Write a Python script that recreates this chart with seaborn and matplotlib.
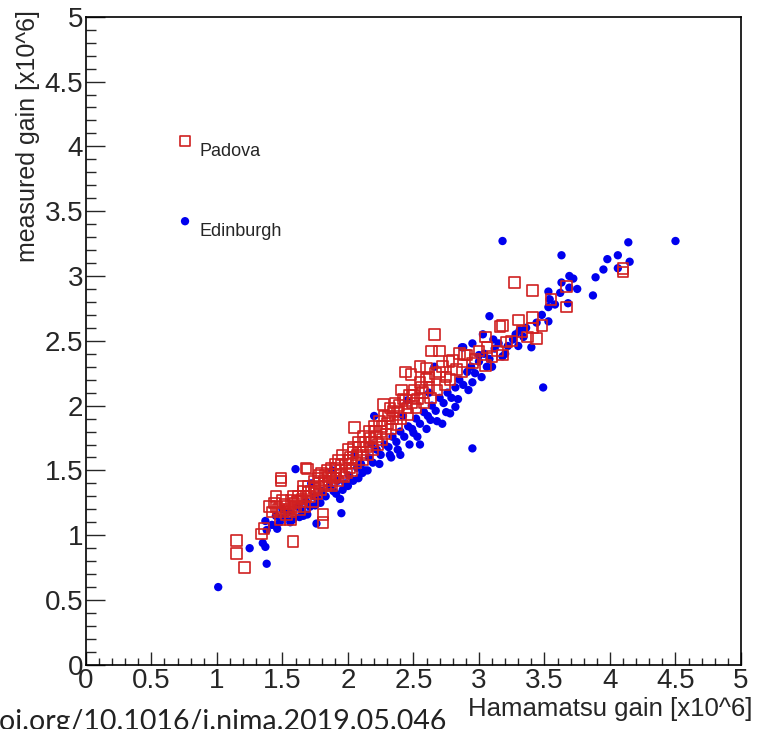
import numpy as np
import pandas as pd
import seaborn as sns
import matplotlib.pyplot as plt
from matplotlib.ticker import MultipleLocator

sns.set_style("white")
plt.rcParams["font.family"] = ["Liberation Sans", "DejaVu Sans"]

# Padova measurements (Hamamatsu gain, measured gain) in units of 10^6
padova_x = [1.15, 1.15, 1.21, 1.34, 1.40, 1.45, 1.49, 1.48, 1.56, 1.58, 1.69, 1.81, 1.81,
            1.36, 1.42, 1.44, 1.47, 1.50, 1.52, 1.55, 1.57, 1.60, 1.62, 1.64, 1.66, 1.68,
            1.70, 1.72, 1.74, 1.75, 1.77, 1.78, 1.80, 1.82, 1.84, 1.85, 1.87, 1.88, 1.90,
            1.91, 1.93, 1.94, 1.96, 1.97, 1.98, 2.00, 2.01, 2.02, 2.04, 2.05, 2.06, 2.08,
            2.10, 2.12, 2.14, 2.16, 2.18, 2.20, 2.22, 2.24, 2.25, 2.27, 2.28, 2.30, 2.32,
            2.34, 2.36, 2.38, 2.41, 2.42, 2.44, 2.45, 2.47, 2.49, 2.51, 2.53, 2.55, 2.57,
            2.60, 2.60, 2.62, 2.64, 2.66, 2.67, 2.70, 2.72, 2.75, 2.77, 2.80, 2.83, 2.85,
            2.89, 2.91, 2.95, 3.05, 3.05, 3.06, 3.14, 3.16, 3.18, 3.18, 3.21, 3.27, 3.30,
            3.37, 3.41, 3.41, 3.41, 3.44, 3.48, 3.55, 3.67, 3.67, 4.10, 4.10,
            1.53, 1.56, 1.59, 1.63, 1.65, 1.67, 1.71, 1.73, 1.76, 1.79, 1.83, 1.86, 1.89,
            1.92, 1.95, 1.99, 2.03, 2.07, 2.11, 2.15, 2.19, 2.23, 2.26, 2.29, 2.33, 2.37,
            2.40, 2.46, 2.52, 2.58, 2.63, 2.68, 2.74, 2.78, 2.87, 2.97, 3.00, 3.10, 3.25,
            3.33, 1.68, 1.49,
            1.45, 1.50, 1.54, 1.58, 1.61, 1.66, 1.70, 1.74, 1.78, 1.83, 1.87, 1.91, 1.95,
            2.00, 2.04, 2.09, 2.13, 2.17, 2.21, 2.26, 2.31, 2.35, 2.39, 2.44, 2.50, 2.56,
            2.62, 2.70, 2.55, 2.48]
padova_y = [0.96, 0.86, 0.75, 1.01, 1.22, 1.30, 1.42, 1.12, 1.12, 0.95, 1.51, 1.16, 1.10,
            1.05, 1.18, 1.25, 1.20, 1.18, 1.24, 1.20, 1.27, 1.22, 1.30, 1.26, 1.34, 1.30,
            1.38, 1.34, 1.42, 1.36, 1.44, 1.40, 1.48, 1.42, 1.50, 1.45, 1.52, 1.38, 1.55,
            1.47, 1.58, 1.50, 1.62, 1.45, 1.55, 1.66, 1.52, 1.60, 1.68, 1.83, 1.56, 1.72,
            1.64, 1.76, 1.68, 1.80, 1.72, 1.84, 1.76, 1.88, 1.80, 2.01, 1.92, 1.86, 1.98,
            1.90, 2.02, 1.95, 2.12, 2.05, 2.26, 1.98, 2.08, 2.02, 2.12, 2.05, 2.18, 2.10,
            2.29, 2.20, 2.14, 2.42, 2.55, 2.25, 2.42, 2.30, 2.22, 2.34, 2.35, 2.28, 2.40,
            2.39, 2.39, 2.33, 2.53, 2.31, 2.45, 2.42, 2.61, 2.62, 2.39, 2.49, 2.95, 2.66,
            2.53, 2.89, 2.68, 2.60, 2.52, 2.62, 2.82, 2.92, 2.76, 3.06, 3.03,
            1.16, 1.18, 1.25, 1.20, 1.28, 1.22, 1.30, 1.26, 1.32, 1.35, 1.38, 1.40, 1.44,
            1.42, 1.46, 1.48, 1.50, 1.62, 1.58, 1.62, 1.66, 1.70, 1.74, 1.78, 1.82, 1.85,
            1.90, 1.93, 1.98, 2.02, 2.06, 2.12, 2.16, 2.20, 2.26, 2.36, 2.42, 2.38, 2.50,
            2.57, 1.52, 1.44,
            1.22, 1.27, 1.22, 1.30, 1.26, 1.38, 1.33, 1.37, 1.46, 1.46, 1.47, 1.52, 1.55,
            1.58, 1.64, 1.68, 1.72, 1.75, 1.80, 1.84, 1.92, 1.96, 2.00, 2.04, 2.08, 2.14,
            2.22, 2.26, 2.30, 2.24]

# Edinburgh measurements
edinburgh_x = [1.01, 1.38, 1.25, 1.35, 1.37, 1.37, 1.38, 1.60, 1.95, 1.76, 2.11, 1.96, 1.75,
               1.69, 1.63, 2.95, 2.32, 2.82, 2.50, 2.63, 2.95, 2.87, 3.03, 3.18, 3.18, 3.63,
               4.14, 3.98, 4.06, 4.15, 4.06, 3.89, 3.87, 3.69, 3.72, 3.63, 3.53, 3.62, 3.69,
               3.53, 3.54, 3.68, 3.53, 3.08, 3.40, 3.49, 3.31, 3.34, 3.26, 3.11, 2.95, 2.88,
               3.00, 3.06, 4.50,
               1.42, 1.45, 1.48, 1.50, 1.52, 1.55, 1.58, 1.62, 1.65, 1.68, 1.71, 1.74, 1.77,
               1.80, 1.83, 1.86, 1.89, 1.92, 1.94, 1.98, 2.01, 2.04, 2.07, 2.10, 2.13, 2.16,
               2.19, 2.22, 2.25, 2.28, 2.31, 2.34, 2.37, 2.40, 2.43, 2.46, 2.49, 2.52, 2.55,
               2.58, 2.61, 2.64, 2.67, 2.70, 2.73, 2.76, 2.79, 2.82, 2.85, 2.88, 2.91, 2.94,
               2.97, 3.00, 3.04, 3.08, 3.12, 3.15, 3.22, 3.28, 3.36, 3.44, 3.48, 3.58, 3.75,
               3.95, 2.20, 2.45, 2.55, 2.72, 2.40, 1.88, 2.05, 1.72, 2.66, 2.78,
               1.46, 1.56, 1.66, 1.79, 1.91, 2.00, 2.08, 2.15, 2.24, 2.33, 2.38, 2.47, 2.53,
               2.60, 2.68, 2.75, 2.84, 2.92, 3.02, 3.10, 3.20, 3.30, 2.18, 2.42, 2.62]
edinburgh_y = [0.60, 0.78, 0.90, 0.94, 0.91, 1.11, 1.04, 1.51, 1.17, 1.09, 1.48, 1.35, 1.23,
               1.16, 1.14, 1.67, 1.62, 1.99, 1.79, 1.89, 2.18, 2.45, 2.55, 2.38, 3.27, 3.16,
               3.26, 3.13, 3.16, 3.11, 3.06, 2.99, 2.85, 3.00, 2.98, 2.95, 2.88, 2.87, 2.91,
               2.76, 2.82, 2.79, 2.65, 2.69, 2.45, 2.14, 2.58, 2.53, 2.51, 2.51, 2.48, 2.45,
               2.39, 2.30, 3.27,
               1.08, 1.15, 1.10, 1.20, 1.14, 1.18, 1.12, 1.22, 1.20, 1.26, 1.22, 1.30, 1.28,
               1.34, 1.30, 1.38, 1.34, 1.42, 1.28, 1.40, 1.46, 1.42, 1.52, 1.55, 1.50, 1.60,
               1.56, 1.66, 1.62, 1.70, 1.68, 1.76, 1.72, 1.80, 1.76, 1.84, 1.82, 1.90, 1.86,
               1.95, 1.92, 2.00, 1.96, 2.06, 2.02, 2.10, 2.06, 2.14, 2.20, 2.16, 2.26, 2.30,
               2.25, 2.34, 2.40, 2.36, 2.44, 2.48, 2.46, 2.55, 2.60, 2.64, 2.70, 2.78, 2.90,
               3.05, 1.92, 2.04, 1.70, 1.86, 1.62, 1.50, 1.62, 1.40, 2.30, 1.94,
               1.05, 1.10, 1.15, 1.25, 1.32, 1.38, 1.44, 1.50, 1.55, 1.60, 1.66, 1.70, 1.76,
               1.82, 1.88, 1.95, 2.05, 2.12, 2.22, 2.30, 2.40, 2.46, 1.70, 1.92, 2.10]

padova = pd.DataFrame({"hamamatsu": padova_x, "measured": padova_y})
edinburgh = pd.DataFrame({"hamamatsu": edinburgh_x, "measured": edinburgh_y})

fig = plt.figure(figsize=(7.6, 7.29), dpi=100)
ax = fig.add_axes([0.113, 0.088, 0.862, 0.889])

sns.scatterplot(data=edinburgh, x="hamamatsu", y="measured", ax=ax, marker="o",
                color="#0000ee", edgecolor="none", s=36, label="Edinburgh", zorder=2)
sns.scatterplot(data=padova, x="hamamatsu", y="measured", ax=ax, marker="s",
                facecolor="none", edgecolor="#d02020", linewidth=1.2, s=58,
                label="Padova", zorder=3)

ax.set_xlim(0, 5)
ax.set_ylim(0, 5)
ax.xaxis.set_major_locator(MultipleLocator(0.5))
ax.xaxis.set_minor_locator(MultipleLocator(0.1))
ax.yaxis.set_major_locator(MultipleLocator(0.5))
ax.yaxis.set_minor_locator(MultipleLocator(0.1))
ax.set_xticklabels([f"{v:g}" for v in ax.get_xticks()])
ax.set_yticklabels([f"{v:g}" for v in ax.get_yticks()])
ax.tick_params(axis="x", which="major", direction="in", length=9.5, width=1.0,
               labelsize=20, pad=2, top=False, bottom=True)
ax.tick_params(axis="x", which="minor", direction="in", length=5, width=1.0,
               top=False, bottom=True)
ax.tick_params(axis="y", which="major", direction="in", length=14, width=1.0,
               labelsize=20, pad=2, right=False, left=True)
ax.tick_params(axis="y", which="minor", direction="in", length=7, width=1.0,
               right=False, left=True)
for sp in ax.spines.values():
    sp.set_visible(True)
    sp.set_color("black")
    sp.set_linewidth(1.2)

ax.set_xlabel("Hamamatsu gain [x10^6]", fontsize=18.5, loc="right")
ax.xaxis.set_label_coords(1.017, -0.050)
ax.set_ylabel("measured gain [x10^6]", fontsize=18, loc="top")
ax.yaxis.set_label_coords(-0.070, 1.011)

# legend without a frame, Padova on top, markers sit a bit above the labels
handles, labels = ax.get_legend_handles_labels()
ax.legend(handles[::-1], labels[::-1], loc="upper left", bbox_to_anchor=(0.11, 0.831),
          frameon=False, fontsize=13, labelspacing=3.5, handletextpad=0.2,
          handlelength=1.2, scatterpoints=1, scatteryoffsets=[1.15])

fig.text(-0.021, -0.008, "doi.org/10.1016/j.nima.2019.05.046", fontsize=20.5,
         family=["Lato", "DejaVu Sans"], color="#222222", ha="left", va="bottom")

fig.savefig("out.png", dpi=100)
